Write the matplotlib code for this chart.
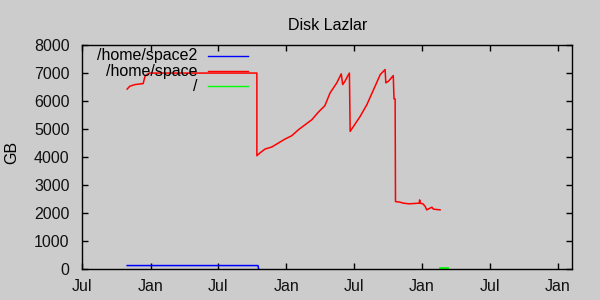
import matplotlib
matplotlib.use("Agg")
import matplotlib.pyplot as plt
import matplotlib.dates as mdates
import numpy as np

# /home/space (red)
space_dates = ["2009-10-30", "2009-11-06", "2009-11-20", "2009-12-12", "2009-12-17",
               "2009-12-26", "2009-12-30", "2010-10-14", "2010-10-14", "2010-10-22",
               "2010-11-05", "2010-11-23", "2010-12-11", "2010-12-29", "2011-01-16",
               "2011-02-03", "2011-02-21", "2011-03-11", "2011-03-28", "2011-04-15",
               "2011-04-29", "2011-05-17", "2011-05-29", "2011-06-02", "2011-06-08",
               "2011-06-15", "2011-06-20", "2011-06-22", "2011-07-01", "2011-07-19",
               "2011-08-06", "2011-08-24", "2011-09-11", "2011-09-24", "2011-09-26",
               "2011-10-03", "2011-10-16", "2011-10-18", "2011-10-21", "2011-10-22",
               "2011-11-03", "2011-11-12", "2011-11-28", "2011-12-25", "2011-12-26",
               "2011-12-27", "2012-01-04", "2012-01-10", "2012-01-14", "2012-01-23",
               "2012-01-28", "2012-02-01", "2012-02-19"]
space_gb = [6430, 6530, 6590, 6625, 6886,
            6980, 7000, 7000, 4054, 4150,
            4293, 4364, 4507, 4650, 4768,
            4982, 5161, 5339, 5600, 5839,
            6293, 6650, 6971, 6589, 6707,
            6886, 7000, 4921, 5100, 5457,
            5875, 6411, 6946, 7125, 6650,
            6707, 6911, 6079, 6079, 2421,
            2400, 2364, 2340, 2364, 2480,
            2364, 2340, 2243, 2125, 2186,
            2220, 2150, 2125]

# /home/space2 (blue)
space2_dates = ["2009-10-30", "2010-10-17", "2010-10-19"]
space2_gb = [140, 140, 0]

# / (green)
root_dates = ["2012-02-19", "2012-03-12"]
root_gb = [45, 45]

bg = "#cccccc"
plt.rcParams["font.family"] = ["Liberation Sans", "DejaVu Sans"]
plt.rcParams["font.size"] = 11.5

fig = plt.figure(figsize=(6, 3), dpi=100, facecolor=bg)
ax = fig.add_axes([0.137, 0.1017, 0.817, 0.7483], facecolor=bg)

to_d = lambda s: mdates.datestr2num(s)
ax.plot(to_d(space2_dates), space2_gb, color="#0000ff", lw=1.1)
ax.plot(to_d(space_dates), space_gb, color="#ff0000", lw=1.1)
ax.plot(to_d(root_dates), root_gb, color="#00ff00", lw=1.3)

ax.set_xlim(to_d("2009-07-01"), to_d("2013-02-09"))
ax.set_ylim(0, 8000)
ax.set_yticks(np.arange(0, 8001, 1000))
ax.xaxis.set_major_locator(mdates.MonthLocator(bymonth=[1, 7]))
ax.xaxis.set_major_formatter(mdates.DateFormatter("%b"))
ax.tick_params(direction="in", length=4, width=1, top=True, right=True,
               colors="black", labelcolor="#111111")
ax.tick_params(axis="y", pad=9)
ax.tick_params(axis="x", pad=7)
for s in ax.spines.values():
    s.set_linewidth(1.0)

ax.set_title("Disk Lazlar", pad=11, fontsize=11.5)
ax.set_ylabel("GB")
ax.yaxis.set_label_coords(-0.128, 0.523)

# gnuplot-style key: right aligned text, sample line to the right
labels = ["/home/space2", "/home/space", "/"]
colors = ["#0000ff", "#ff0000", "#00ff00"]
rows = [0.953, 0.884, 0.817]
for lab, c, yy in zip(labels, colors, rows):
    ax.text(0.2355, yy, lab, transform=ax.transAxes, ha="right", va="center")
    ax.plot([0.257, 0.339], [yy, yy], color=c, lw=1.0, transform=ax.transAxes)

fig.savefig("out.png", dpi=100, facecolor=bg)
